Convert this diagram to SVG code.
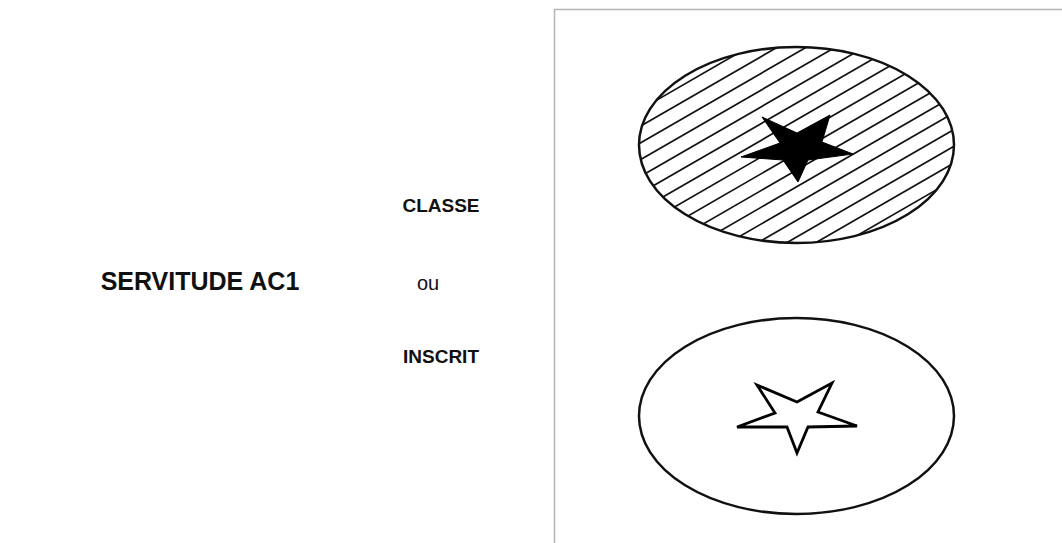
<svg xmlns="http://www.w3.org/2000/svg" width="1062" height="543" viewBox="0 0 1062 543">
<style>
.lbl{font-family:"Liberation Sans",Arial,sans-serif;fill:#111;}
.b{font-weight:bold;}
.ell{fill:none;stroke:#111;stroke-width:2.5;}
.hatch line{stroke:#111;stroke-width:1.7;}
</style>
<defs>
<clipPath id="clipTop"><ellipse cx="796.5" cy="145" rx="157.5" ry="98"/></clipPath>
</defs>
<rect width="1062" height="543" fill="#fff"/>
<g id="labels">
<text class="lbl b" x="200" y="290" font-size="25" text-anchor="middle">SERVITUDE AC1</text>
<text class="lbl b" x="441" y="212" font-size="19" text-anchor="middle">CLASSE</text>
<text class="lbl" x="428" y="290" font-size="20" text-anchor="middle">ou</text>
<text class="lbl b" x="441" y="363" font-size="19" text-anchor="middle">INSCRIT</text>
</g>
<g id="frame"><path d="M554.5,543 V9.5 H1062" fill="none" stroke="#b5b5b5" stroke-width="1.5"/></g>
<g id="classe">
<g clip-path="url(#clipTop)">
<g class="hatch" transform="translate(796.5,145) rotate(-30)">
<line x1="-220" y1="-123.25" x2="220" y2="-123.25"/>
<line x1="-220" y1="-108.75" x2="220" y2="-108.75"/>
<line x1="-220" y1="-94.25" x2="220" y2="-94.25"/>
<line x1="-220" y1="-79.75" x2="220" y2="-79.75"/>
<line x1="-220" y1="-65.25" x2="220" y2="-65.25"/>
<line x1="-220" y1="-50.75" x2="220" y2="-50.75"/>
<line x1="-220" y1="-36.25" x2="220" y2="-36.25"/>
<line x1="-220" y1="-21.75" x2="220" y2="-21.75"/>
<line x1="-220" y1="-7.25" x2="220" y2="-7.25"/>
<line x1="-220" y1="7.25" x2="220" y2="7.25"/>
<line x1="-220" y1="21.75" x2="220" y2="21.75"/>
<line x1="-220" y1="36.25" x2="220" y2="36.25"/>
<line x1="-220" y1="50.75" x2="220" y2="50.75"/>
<line x1="-220" y1="65.25" x2="220" y2="65.25"/>
<line x1="-220" y1="79.75" x2="220" y2="79.75"/>
<line x1="-220" y1="94.25" x2="220" y2="94.25"/>
<line x1="-220" y1="108.75" x2="220" y2="108.75"/>
<line x1="-220" y1="123.25" x2="220" y2="123.25"/>
</g>
</g>
<ellipse class="ell" cx="796.5" cy="145" rx="157.5" ry="98"/>
<path d="M762,117 L797,133 L830,115 L822,142 L853,154 L808,160 L798,182 L783,160 L741,157 L780,143 Z" fill="#000" stroke="#000" stroke-width="1" stroke-linejoin="miter"/>
</g>
<g id="inscrit">
<ellipse class="ell" cx="796.5" cy="416" rx="157.5" ry="98"/>
<path d="M757,385 L797,402 L832,383 L818,412 L857,426 L808,427 L797,453 L787,427 L737,427 L775,413 Z" fill="#fff" stroke="#000" stroke-width="2.8" stroke-linejoin="miter"/>
</g>
</svg>
